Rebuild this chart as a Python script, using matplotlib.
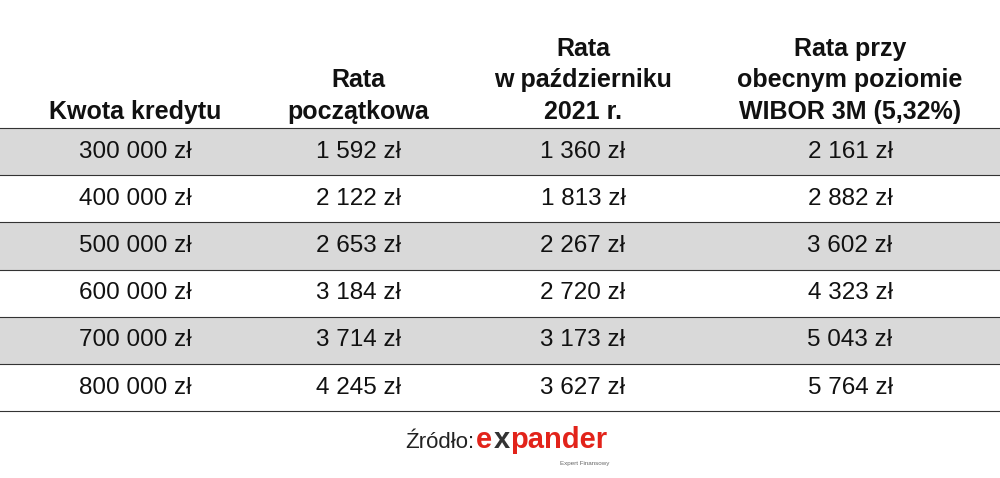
import matplotlib
matplotlib.use("Agg")
import matplotlib.pyplot as plt
from matplotlib.patches import Rectangle

plt.rcParams['font.family'] = ['Liberation Sans', 'DejaVu Sans']

headers = ["Kwota kredytu", "Rata\npoczątkowa", "Rata\nw październiku\n2021 r.", "Rata przy\nobecnym poziomie\nWIBOR 3M (5,32%)"]
kwota = ["300 000 zł", "400 000 zł", "500 000 zł", "600 000 zł", "700 000 zł", "800 000 zł"]
rata_pocz = ["1 592 zł", "2 122 zł", "2 653 zł", "3 184 zł", "3 714 zł", "4 245 zł"]
rata_2021 = ["1 360 zł", "1 813 zł", "2 267 zł", "2 720 zł", "3 173 zł", "3 627 zł"]
rata_wibor = ["2 161 zł", "2 882 zł", "3 602 zł", "4 323 zł", "5 043 zł", "5 764 zł"]

cols = [kwota, rata_pocz, rata_2021, rata_wibor]
xc = [135, 358, 583, 850]

fig = plt.figure(figsize=(10, 4.78), dpi=100)
ax = fig.add_axes([0, 0, 1, 1])
ax.set_xlim(0, 1000); ax.set_ylim(478, 0); ax.axis("off")

top, rh = 128, 47.2
for i in range(len(kwota)):
    y0 = top + i * rh
    if i % 2 == 0:
        ax.add_patch(Rectangle((0, y0), 1000, rh, color="#d9d9d9", lw=0))
    ax.plot([0, 1000], [y0, y0], color="#333333", lw=0.8)
    for c, x in zip(cols, xc):
        ax.text(x, y0 + rh / 2, c[i], ha="center", va="center", fontsize=17.5, color="#111111")
ax.plot([0, 1000], [top + 6 * rh, top + 6 * rh], color="#333333", lw=0.8)

for h, x in zip(headers, xc):
    ax.text(x, 124, h, ha="center", va="bottom", fontsize=18, fontweight="bold",
            color="#111111", linespacing=1.4)

ax.text(474, 442, "Źródło:", ha="right", va="center", fontsize=16, color="#222222")
ax.text(476, 440, "e", ha="left", va="center", fontsize=21, fontweight="bold", color="#e2231a")
ax.text(494, 440, "x", ha="left", va="center", fontsize=21, fontweight="bold", color="#333333")
ax.text(510, 440, "pander", ha="left", va="center", fontsize=21, fontweight="bold", color="#e2231a")
ax.text(560, 463, "Expert Finansowy", ha="left", va="center", fontsize=4.5, color="#666666")

fig.savefig("out.png", dpi=100)
